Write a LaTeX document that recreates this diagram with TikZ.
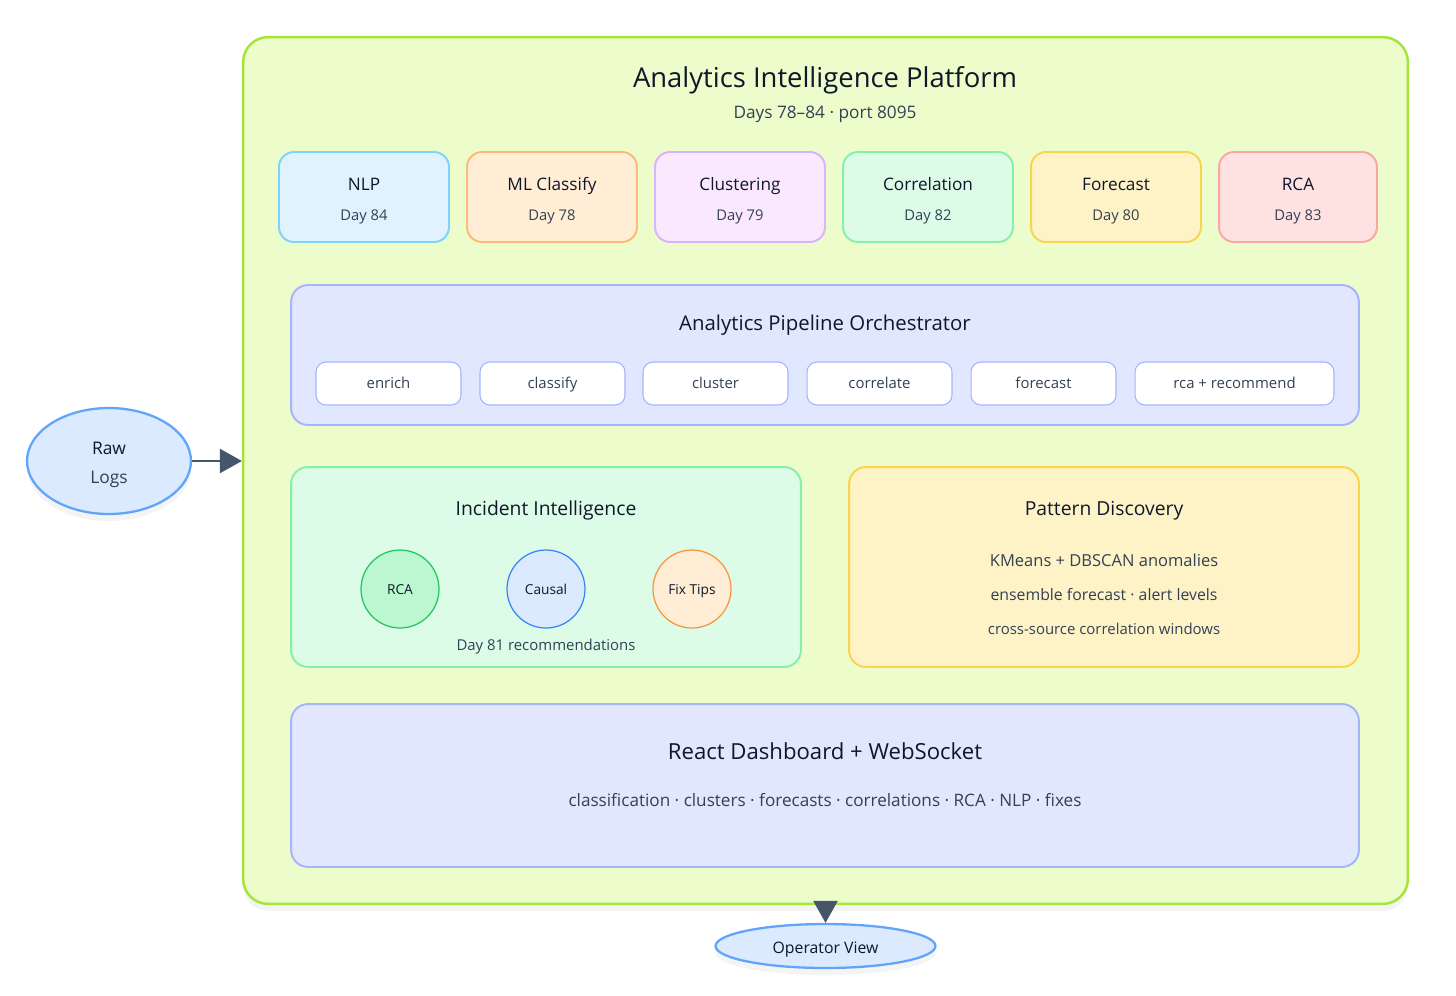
\documentclass[tikz,border=0pt]{standalone}
\usepackage{fontspec}
\setmainfont{Open Sans}
\usetikzlibrary{arrows.meta,shapes.geometric,shadows}

\definecolor{ink}{HTML}{0F172A}
\definecolor{subink}{HTML}{334155}
\definecolor{arrowc}{HTML}{475569}
\definecolor{platfill}{HTML}{ECFCCB}
\definecolor{platline}{HTML}{A3E635}
\definecolor{nlpfill}{HTML}{E0F2FE}
\definecolor{nlpline}{HTML}{7DD3FC}
\definecolor{mlfill}{HTML}{FFEDD5}
\definecolor{mlline}{HTML}{FDBA74}
\definecolor{clufill}{HTML}{FAE8FF}
\definecolor{cluline}{HTML}{D8B4FE}
\definecolor{corfill}{HTML}{DCFCE7}
\definecolor{corline}{HTML}{86EFAC}
\definecolor{fcfill}{HTML}{FEF3C7}
\definecolor{fcline}{HTML}{FCD34D}
\definecolor{rcafill}{HTML}{FEE2E2}
\definecolor{rcaline}{HTML}{FCA5A5}
\definecolor{indfill}{HTML}{E0E7FF}
\definecolor{indline}{HTML}{A5B4FC}
\definecolor{rawfill}{HTML}{DBEAFE}
\definecolor{rawline}{HTML}{60A5FA}
\definecolor{rcabfill}{HTML}{BBF7D0}
\definecolor{rcabline}{HTML}{22C55E}
\definecolor{causline}{HTML}{3B82F6}
\definecolor{fixline}{HTML}{FB923C}

\newcommand{\daytxt}[1]{{\fontsize{8.4}{10}\selectfont\color{subink}#1}}
\newcommand{\cardtxt}[2]{\rule{0pt}{11.6pt}#1\\[5pt]\daytxt{#2}}

\begin{document}
\begin{tikzpicture}[x=0.02cm, y=-0.02cm,
  every node/.style={font=\fontsize{9}{11}\selectfont, text=ink},
  card/.style={draw, rounded corners=0.3cm, line width=1.1pt, minimum width=3.4cm, minimum height=1.8cm, align=center, font=\fontsize{9.8}{12}\selectfont},
  section/.style={draw, rounded corners=0.34cm, line width=1.1pt},
  pill/.style={draw=indline, fill=white, rounded corners=0.2cm, line width=0.6pt, minimum width=2.9cm, minimum height=0.86cm, text height=6.5pt, text depth=1pt, font=\fontsize{8.5}{10}\selectfont, text=subink},
  badge/.style={circle, draw, line width=0.7pt, minimum size=1.56cm, text height=7.5pt, text depth=0.8pt, font=\fontsize{7.8}{9}\selectfont},
  flow/.style={draw=arrowc, line width=1.4pt, -{Triangle[length=0.44cm, width=0.48cm]}},
  soft/.style={drop shadow={opacity=0.09, shadow xshift=0pt, shadow yshift=-4pt}}]
  \useasboundingbox (0,0) rectangle (1456,995);

  % platform frame
  \node[soft, draw=platline, fill=platfill, rounded corners=0.5cm, line width=1.4pt, minimum width=23.3cm, minimum height=17.34cm] (plat) at (825.5,470.5) {};
  \node[font=\fontsize{15.6}{18}\selectfont] (ptitle) at (825,80) {Analytics Intelligence Platform};
  \node[font=\fontsize{9.8}{12}\selectfont, text=subink] (psub) at (825,114) {Days 78--84 · port 8095};

  % module cards
  \node[card, draw=nlpline, fill=nlpfill] (nlp) at (364,197) {\cardtxt{NLP}{Day 84}};
  \node[card, draw=mlline, fill=mlfill] (mlclass) at (552,197) {\cardtxt{ML Classify}{Day 78}};
  \node[card, draw=cluline, fill=clufill] (clust) at (740,197) {\cardtxt{Clustering}{Day 79}};
  \node[card, draw=corline, fill=corfill] (corr) at (928,197) {\cardtxt{Correlation}{Day 82}};
  \node[card, draw=fcline, fill=fcfill] (fcast) at (1116,197) {\cardtxt{Forecast}{Day 80}};
  \node[card, draw=rcaline, fill=rcafill, minimum width=3.16cm] (rcacard) at (1298,197) {\cardtxt{RCA}{Day 83}};

  % orchestrator
  \node[section, draw=indline, fill=indfill, minimum width=21.36cm, minimum height=2.8cm] (orch) at (825,355) {};
  \node[font=\fontsize{11.6}{14}\selectfont] (orchtitle) at (825,325) {Analytics Pipeline Orchestrator};
  \node[pill] (enrich) at (388.5,383.5) {enrich};
  \node[pill] (classify) at (552.5,383.5) {classify};
  \node[pill] (cluster) at (715.5,383.5) {cluster};
  \node[pill] (correlate) at (879.5,383.5) {correlate};
  \node[pill] (forecast) at (1043.5,383.5) {forecast};
  \node[pill, minimum width=3.98cm] (recommend) at (1234.5,383.5) {rca + recommend};

  % incident intelligence
  \node[section, draw=corline, fill=corfill, minimum width=10.2cm, minimum height=4cm] (incident) at (546,567) {};
  \node[font=\fontsize{11}{13}\selectfont] (inctitle) at (546,510) {Incident Intelligence};
  \node[badge, draw=rcabline, fill=rcabfill] (rcabadge) at (400,589) {RCA};
  \node[badge, draw=causline, fill=rawfill] (causal) at (546,589) {Causal};
  \node[badge, draw=fixline, fill=mlfill] (fixtips) at (692,589) {Fix Tips};
  \node[font=\fontsize{8.5}{10}\selectfont, text=subink] (incnote) at (546,647) {Day 81 recommendations};

  % pattern discovery
  \node[section, draw=fcline, fill=fcfill, minimum width=10.2cm, minimum height=4cm] (pattern) at (1104,567) {};
  \node[font=\fontsize{11}{13}\selectfont] (pattitle) at (1104,511) {Pattern Discovery};
  \node[font=\fontsize{9.4}{11}\selectfont, text=subink] (patone) at (1104,560) {KMeans + DBSCAN anomalies};
  \node[text=subink] (pattwo) at (1104,595) {ensemble forecast · alert levels};
  \node[font=\fontsize{8.5}{10}\selectfont, text=subink] (patthree) at (1104,629) {cross-source correlation windows};

  % dashboard
  \node[section, draw=indline, fill=indfill, minimum width=21.36cm, minimum height=3.26cm] (dash) at (825,785.5) {};
  \node[font=\fontsize{12.6}{15}\selectfont] (dashtitle) at (825,751) {React Dashboard + WebSocket};
  \node[font=\fontsize{9.75}{11}\selectfont, text=subink] (dashsub) at (825,800) {classification · clusters · forecasts · correlations · RCA · NLP · fixes};

  % outside
  \node[soft, ellipse, draw=rawline, fill=rawfill, line width=1.3pt, minimum width=3.28cm, minimum height=2.12cm, align=center, font=\fontsize{9.9}{12}\selectfont] (raw) at (109,461) {\rule{0pt}{11pt}Raw\\[4.5pt]{\color{subink}Logs}};
  \node[soft, ellipse, draw=rawline, fill=rawfill, line width=1.3pt, minimum width=4.4cm, minimum height=0.88cm, inner sep=0pt, text height=11pt, text depth=2pt] (op) at (825.5,946) {Operator View};

  \draw[flow] (raw) -- (raw -| plat.west);
  \draw[flow] (plat.south) -- (op);
\end{tikzpicture}
\end{document}
